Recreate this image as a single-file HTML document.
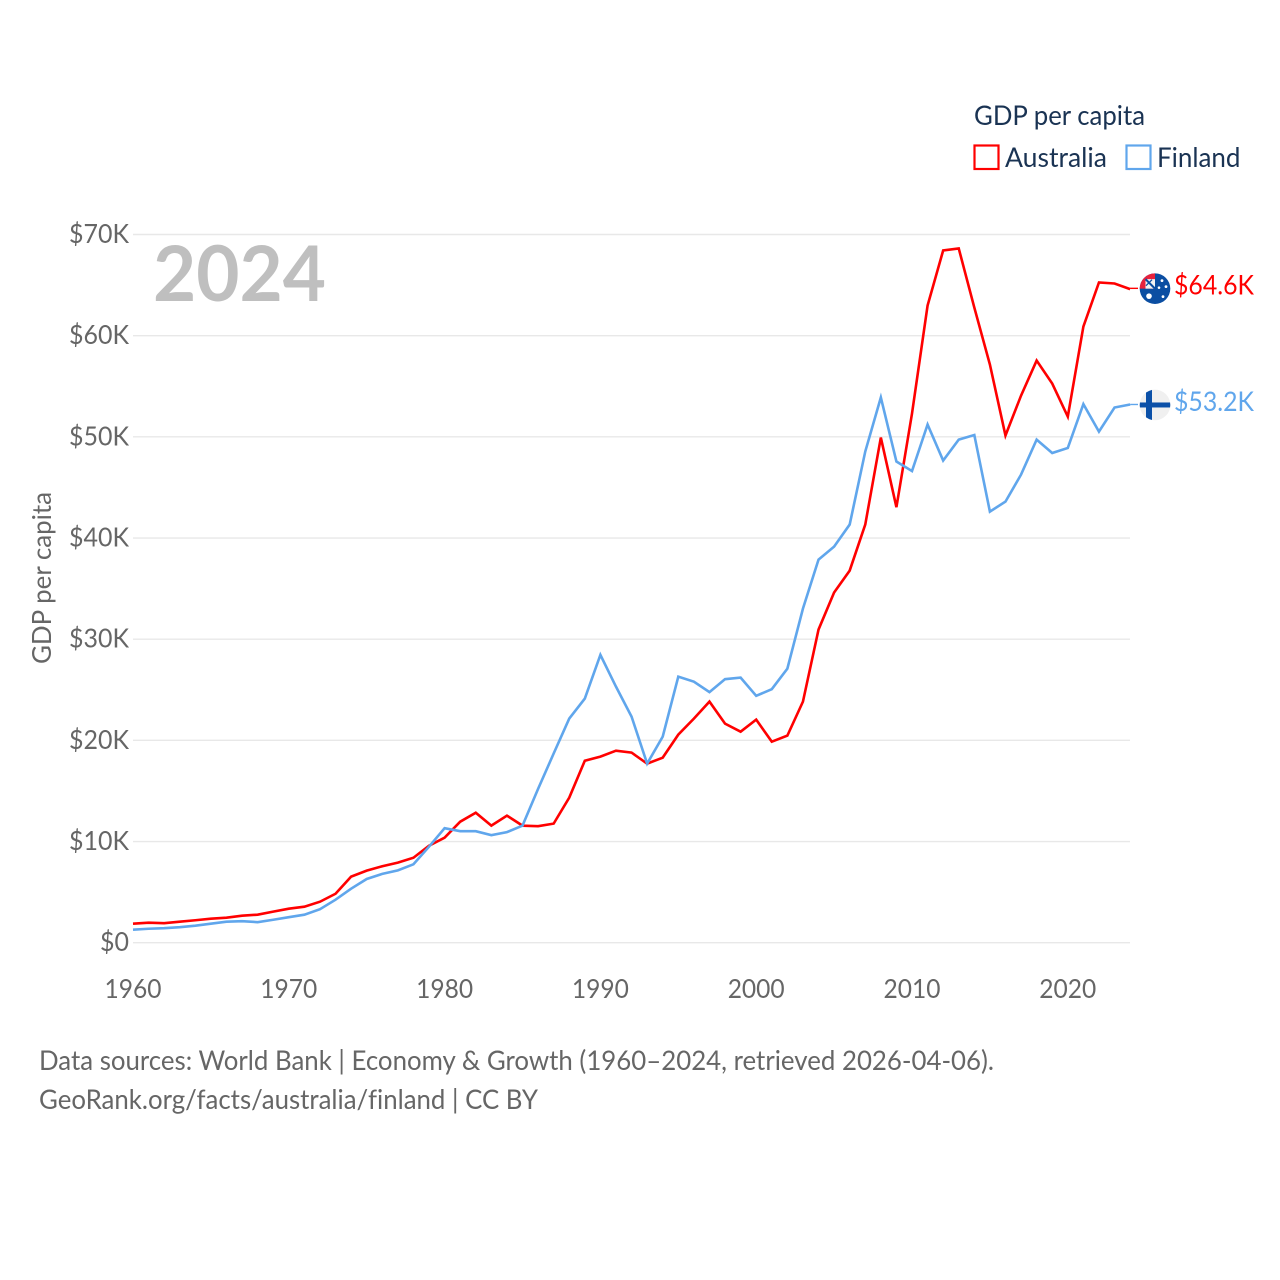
<!DOCTYPE html>
<html lang="en">
<head>
<meta charset="utf-8">
<title>GDP per capita: Australia and Finland</title>
<style>
html,body{margin:0;padding:0;background:#fff;}
svg{display:block;}
text{font-family:"Lato","Carlito","Liberation Sans",sans-serif;font-variant-ligatures:none;}
</style>
</head>
<body>
<svg id="chart" xmlns="http://www.w3.org/2000/svg" width="1280" height="1280" viewBox="0 0 1280 1280">
  <rect width="1280" height="1280" fill="#fff"/>
  <g id="grid"></g>
  <g id="yticks"></g>
  <g id="xticks"></g>
  <text transform="translate(51,664) rotate(-90)" font-size="26" fill="#666" textLength="172" lengthAdjust="spacingAndGlyphs">GDP per capita</text>
  <text x="153" y="301" font-size="77" font-weight="700" fill="#bfbfbf" textLength="173" lengthAdjust="spacingAndGlyphs">2024</text>

  <g>
    <text x="974" y="125" font-size="27" fill="#1a3353" textLength="171" lengthAdjust="spacingAndGlyphs">GDP per capita</text>
    <g>
      <rect x="974.5" y="145.5" width="24" height="23.5" fill="none" stroke="#ff0000" stroke-width="2.2"/>
      <text x="1005" y="167" font-size="27" fill="#1a3353" textLength="102" lengthAdjust="spacingAndGlyphs">Australia</text>
    </g>
    <g>
      <rect x="1126.5" y="145.5" width="24" height="23.5" fill="none" stroke="#60a6ec" stroke-width="2.2"/>
      <text x="1157" y="167" font-size="27" fill="#1a3353" textLength="83.5" lengthAdjust="spacingAndGlyphs">Finland</text>
    </g>
  </g>

  <g id="series"></g>

  <defs>
    <clipPath id="flag-clip"><circle cx="0" cy="0" r="15.3"/></clipPath>
  </defs>
  <g id="flag-australia">
    <g clip-path="url(#flag-clip)">
      <rect x="-16" y="-16" width="32" height="32" fill="#0b4ea2"/>
      <rect x="-16" y="-16" width="16" height="16" fill="#e8223c"/>
      <rect x="-9.5" y="-9.5" width="9.5" height="9.5" fill="#f3f3f3"/>
      <path d="M-9.5-9.5L0 0" stroke="#0b4ea2" stroke-width="2"/>
      <path d="M-9-3L-3-9" stroke="#0b4ea2" stroke-width="1.2"/>
      <circle cx="-6" cy="7.5" r="2.8" fill="#fff"/>
      <circle cx="7" cy="-8" r="1.4" fill="#fff"/>
      <circle cx="11" cy="-2" r="1.4" fill="#fff"/>
      <circle cx="4" cy="-1" r="1.3" fill="#fff"/>
      <circle cx="8" cy="8" r="1.4" fill="#fff"/>
    </g>
  </g>
  <g id="flag-finland">
    <g clip-path="url(#flag-clip)">
      <rect x="-16" y="-16" width="32" height="32" fill="#f0f0f0"/>
      <rect x="-16" y="-2.5" width="32" height="5" fill="#0b50a8"/>
      <rect x="-9" y="-16" width="6" height="32" fill="#0b50a8"/>
    </g>
  </g>
  <text id="end-australia" x="1174" font-size="27" fill="#ff0000" textLength="80" lengthAdjust="spacingAndGlyphs"></text>
  <text id="end-finland" x="1174" font-size="27" fill="#60a6ec" textLength="80" lengthAdjust="spacingAndGlyphs"></text>

  <g>
    <text x="39" y="1070" font-size="27" fill="#666" textLength="955" lengthAdjust="spacingAndGlyphs">Data sources: World Bank | Economy &amp; Growth (1960–2024, retrieved 2026-04-06).</text>
    <text x="39" y="1109" font-size="27" fill="#666" textLength="499" lengthAdjust="spacingAndGlyphs">GeoRank.org/facts/australia/finland | CC BY</text>
  </g>
</svg>
<script>
const firstYear = 1960;
const xTickYears = [1960, 1970, 1980, 1990, 2000, 2010, 2020];
const yTickValues = [0, 10, 20, 30, 40, 50, 60, 70];
const australia = [1.88,1.98,1.93,2.08,2.22,2.37,2.47,2.67,2.77,3.07,3.36,3.56,4.05,4.84,6.53,7.12,7.56,7.91,8.40,9.59,10.38,11.96,12.85,11.57,12.56,11.57,11.52,11.77,14.34,17.99,18.39,18.98,18.79,17.70,18.29,20.57,22.15,23.83,21.65,20.86,22.05,19.87,20.47,23.83,30.95,34.61,36.78,41.33,49.93,43.05,52.30,62.98,68.42,68.62,62.78,57.15,50.13,54.08,57.54,55.27,52.00,60.90,65.26,65.16,64.60];
const finland = [1.29,1.38,1.43,1.53,1.68,1.88,2.08,2.13,2.03,2.27,2.52,2.77,3.31,4.25,5.34,6.30,6.80,7.15,7.75,9.49,11.32,11.02,11.02,10.63,10.93,11.57,15.20,18.70,22.15,24.13,28.45,25.31,22.35,17.70,20.37,26.30,25.80,24.77,26.05,26.20,24.40,25.06,27.09,33.02,37.87,39.15,41.33,48.55,53.89,47.56,46.62,51.22,47.66,49.73,50.18,42.61,43.60,46.27,49.73,48.40,48.90,53.24,50.52,52.90,53.20];

const SVG_NS = 'http://www.w3.org/2000/svg';
const xScale = function (year) { return 133 + (year - 1960) * 15.58; };
const yScale = function (v) { return 942.7 - v * 10.117; };
const PLOT_RIGHT = 1130;
const FLAG_X = 1155;

const gridGroup = document.getElementById('grid');
const yGroup = document.getElementById('yticks');
const xGroup = document.getElementById('xticks');
const seriesGroup = document.getElementById('series');

yTickValues.forEach(function (v) {
  const line = document.createElementNS(SVG_NS, 'line');
  
  
  line.setAttribute('x1', xScale(1960));
  line.setAttribute('x2', PLOT_RIGHT);
  line.setAttribute('y1', yScale(v));
  line.setAttribute('y2', yScale(v));
  line.setAttribute('stroke', '#e8e8e8');
  line.setAttribute('stroke-width', '1.4');
  gridGroup.appendChild(line);

  const label = document.createElementNS(SVG_NS, 'text');
  
  
  label.setAttribute('x', 129);
  label.setAttribute('y', yScale(v) + 8.5);
  label.setAttribute('text-anchor', 'end');
  label.setAttribute('font-size', '26');
  label.setAttribute('fill', '#666');
  label.setAttribute('textLength', v === 0 ? 29 : 60);
  label.setAttribute('lengthAdjust', 'spacingAndGlyphs');
  label.textContent = v === 0 ? '$0' : '$' + v + 'K';
  yGroup.appendChild(label);
});

xTickYears.forEach(function (year) {
  const label = document.createElementNS(SVG_NS, 'text');
  
  
  label.setAttribute('x', xScale(year));
  label.setAttribute('y', 998);
  label.setAttribute('text-anchor', 'middle');
  label.setAttribute('font-size', '26');
  label.setAttribute('fill', '#666');
  label.setAttribute('textLength', 57);
  label.setAttribute('lengthAdjust', 'spacingAndGlyphs');
  label.textContent = String(year);
  xGroup.appendChild(label);
});

function linePoints(values) {
  return values.map(function (v, i) {
    return xScale(firstYear + i).toFixed(2) + ',' + yScale(v).toFixed(2);
  }).join(' ');
}

const australiaLine = document.createElementNS(SVG_NS, 'polyline');


australiaLine.setAttribute('points', linePoints(australia));
australiaLine.setAttribute('fill', 'none');
australiaLine.setAttribute('stroke', '#ff0000');
australiaLine.setAttribute('stroke-width', '2.6');
australiaLine.setAttribute('stroke-linejoin', 'miter');
seriesGroup.appendChild(australiaLine);

const finlandLine = document.createElementNS(SVG_NS, 'polyline');


finlandLine.setAttribute('points', linePoints(finland));
finlandLine.setAttribute('fill', 'none');
finlandLine.setAttribute('stroke', '#60a6ec');
finlandLine.setAttribute('stroke-width', '2.6');
finlandLine.setAttribute('stroke-linejoin', 'miter');
seriesGroup.appendChild(finlandLine);

const lastAustralia = australia[australia.length - 1];
const lastFinland = finland[finland.length - 1];
const lastX = xScale(firstYear + australia.length - 1);

const australiaConnector = document.createElementNS(SVG_NS, 'line');


australiaConnector.setAttribute('x1', lastX);
australiaConnector.setAttribute('x2', FLAG_X - 17);
australiaConnector.setAttribute('y1', yScale(lastAustralia) - 0.8);
australiaConnector.setAttribute('y2', yScale(lastAustralia) - 0.8);
australiaConnector.setAttribute('stroke', '#ff0000');
australiaConnector.setAttribute('stroke-width', '1.4');
seriesGroup.appendChild(australiaConnector);

const finlandConnector = document.createElementNS(SVG_NS, 'line');


finlandConnector.setAttribute('x1', lastX);
finlandConnector.setAttribute('x2', FLAG_X - 17);
finlandConnector.setAttribute('y1', yScale(lastFinland));
finlandConnector.setAttribute('y2', yScale(lastFinland));
finlandConnector.setAttribute('stroke', '#60a6ec');
finlandConnector.setAttribute('stroke-width', '1.4');
seriesGroup.appendChild(finlandConnector);

document.getElementById('flag-australia').setAttribute('transform', 'translate(' + FLAG_X + ',' + (yScale(lastAustralia) - 0.5) + ')');
document.getElementById('flag-finland').setAttribute('transform', 'translate(' + FLAG_X + ',' + (yScale(lastFinland) + 0.5) + ')');

const endAustralia = document.getElementById('end-australia');
endAustralia.setAttribute('y', yScale(lastAustralia) + 5.5);
endAustralia.textContent = '$' + lastAustralia.toFixed(1) + 'K';
const endFinland = document.getElementById('end-finland');
endFinland.setAttribute('y', yScale(lastFinland) + 6.5);
endFinland.textContent = '$' + lastFinland.toFixed(1) + 'K';
</script>
</body>
</html>
